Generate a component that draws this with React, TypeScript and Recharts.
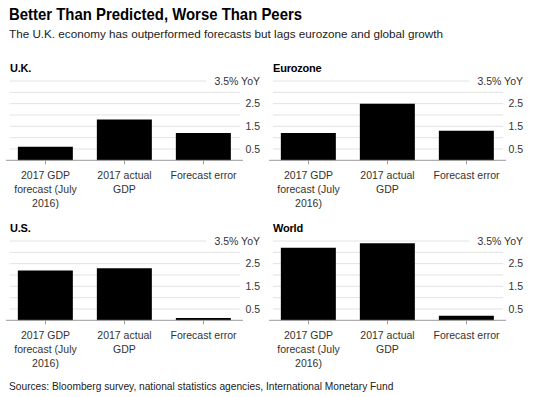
import { Bar, BarChart, CartesianGrid, XAxis, YAxis } from 'recharts';

const categories = ['2017 GDP forecast (July 2016)', '2017 actual GDP', 'Forecast error'];
const regions = ['U.K.', 'Eurozone', 'U.S.', 'World'];
const ukValues = [0.6, 1.8, 1.2];
const eurozoneValues = [1.2, 2.5, 1.3];
const usValues = [2.2, 2.3, 0.1];
const worldValues = [3.2, 3.4, 0.2];
const yTicks = [0.5, 1.5, 2.5, 3.5];
const gridValues = [0.5, 1, 1.5, 2, 2.5, 3, 3.5];

const SANS = '"Liberation Sans", Arial, sans-serif';
const TICK_FONT = 10.5;
const CHART_W = 263;
const CHART_H = 150;
const AXIS_W = 20;
const X_AXIS_H = 64;
const PLOT_H = 79.3;
const MARGIN = { top: 7, right: 0, left: 6, bottom: CHART_H - 7 - PLOT_H - X_AXIS_H };

const panels = [
  { name: regions[0], values: ukValues, left: 0, top: 74 },
  { name: regions[1], values: eurozoneValues, left: 263, top: 74 },
  { name: regions[2], values: usValues, left: 0, top: 234 },
  { name: regions[3], values: worldValues, left: 263, top: 234 },
];

let ctx: CanvasRenderingContext2D | null = null;
function wrap(label: string, maxWidth: number): string[] {
  if (!ctx) ctx = document.createElement('canvas').getContext('2d');
  if (!ctx) return [label];
  ctx.font = `${TICK_FONT}px ${SANS}`;
  const lines: string[] = [];
  let cur = '';
  for (const w of label.split(' ')) {
    const next = cur ? `${cur} ${w}` : w;
    if (cur && ctx.measureText(next).width > maxWidth) {
      lines.push(cur);
      cur = w;
    } else cur = next;
  }
  if (cur) lines.push(cur);
  return lines;
}

function CategoryTick({ x, y, payload }: any) {
  const lines = wrap(String(payload.value), 74);
  return (
    <text x={x} y={y + 12.5} textAnchor="middle" fontSize={TICK_FONT} fontFamily={SANS} fill="#333">
      {lines.map((l, i) => (
        <tspan key={i} x={x} dy={i === 0 ? 0 : 14}>
          {l}
        </tspan>
      ))}
    </text>
  );
}

function ValueTick({ y, payload }: any) {
  const label = payload.value === 3.5 ? '3.5% YoY' : String(payload.value);
  return (
    <text
      x={CHART_W - MARGIN.right - 3}
      y={y}
      dy="0.35em"
      textAnchor="end"
      fontSize={TICK_FONT}
      fontFamily={SANS}
      fill="#333"
    >
      {label}
    </text>
  );
}

// top gridline stops short of the "3.5% YoY" label
function GridLine(props: any) {
  const { x1, x2, y1, y2, y } = props;
  const isTop = Math.abs(y1 - y) < 0.5;
  return (
    <line
      key={props.key}
      x1={x1 + 4}
      x2={isTop ? x2 - 37 : x2 - 3}
      y1={y1}
      y2={y2}
      stroke="#e2e2e2"
      strokeWidth={1}
    />
  );
}

function Panel({ name, values, left, top }: { name: string; values: number[]; left: number; top: number }) {
  const data = categories.map((c, i) => ({ category: c, value: values[i] }));
  return (
    <>
      <div
        style={{
          position: 'absolute',
          left: left + 10,
          top: top - 13,
          fontSize: 11,
          lineHeight: '14px',
          fontWeight: 700,
          letterSpacing: -0.2,
          color: '#000',
        }}
      >
        {name}
      </div>
      <div style={{ position: 'absolute', left, top }}>
        <BarChart width={CHART_W} height={CHART_H} data={data} margin={MARGIN} barCategoryGap="15%">
          <CartesianGrid vertical={false} horizontalValues={gridValues} horizontal={GridLine} />
          <XAxis
            dataKey="category"
            interval={0}
            height={X_AXIS_H}
            tickSize={4}
            axisLine={{ stroke: '#9a9a9a' }}
            tickLine={{ stroke: '#9a9a9a' }}
            tick={CategoryTick}
          />
          <YAxis
            orientation="right"
            width={AXIS_W}
            domain={[0, 3.5]}
            ticks={yTicks}
            interval={0}
            axisLine={false}
            tickLine={false}
            tick={ValueTick}
          />
          <Bar dataKey="value" fill="#000" isAnimationActive={false} />
        </BarChart>
      </div>
    </>
  );
}

export default function App() {
  return (
    <div
      style={{
        position: 'absolute',
        left: 0,
        top: 0,
        width: 533,
        height: 397,
        background: '#fff',
        fontFamily: SANS,
        color: '#111',
        overflow: 'hidden',
      }}
    >
      <div
        style={{
          position: 'absolute',
          left: 9,
          top: 5,
          fontWeight: 700,
          fontSize: 17,
          lineHeight: '20px',
          color: '#000',
          whiteSpace: 'nowrap',
          transform: 'scaleX(0.877)',
          transformOrigin: 'left center',
        }}
      >
        Better Than Predicted, Worse Than Peers
      </div>
      <div
        style={{
          position: 'absolute',
          left: 9,
          top: 27,
          fontSize: 11.7,
          lineHeight: '14px',
          color: '#222',
          whiteSpace: 'nowrap',
        }}
      >
        The U.K. economy has outperformed forecasts but lags eurozone and global growth
      </div>
      {panels.map((p) => (
        <Panel key={p.name} {...p} />
      ))}
      <div
        style={{
          position: 'absolute',
          left: 9,
          top: 380,
          fontSize: 10.2,
          lineHeight: '13px',
          color: '#222',
          whiteSpace: 'nowrap',
        }}
      >
        Sources: Bloomberg survey, national statistics agencies, International Monetary Fund
      </div>
    </div>
  );
}
